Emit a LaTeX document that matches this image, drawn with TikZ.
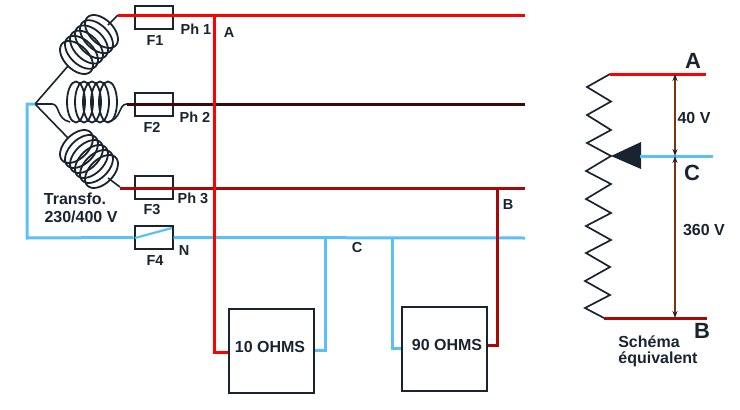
\documentclass[tikz,border=0pt]{standalone}
\usepackage{fontspec}
\setmainfont{Liberation Sans}
\usetikzlibrary{arrows.meta,calc}
\definecolor{ink}{HTML}{1A2430}
\definecolor{phA}{HTML}{FF0000}
\definecolor{phB}{HTML}{3F0808}
\definecolor{phC}{HTML}{A80808}
\definecolor{neu}{HTML}{5BC0F8}
\definecolor{brn}{HTML}{7A3410}
\tikzset{
  x=1pt,y=-1pt,
  fusebox/.style={draw=ink,line width=2pt,minimum width=38pt,minimum height=23pt,inner sep=0pt},
  loadbox/.style={draw=ink,line width=2pt,minimum width=85pt,minimum height=84pt,inner sep=0pt},
  lbl/.style={text=ink,font=\bfseries\fontsize{14.5}{16}\selectfont,inner sep=0pt},
  lbllong/.style={text=ink,font=\bfseries\fontsize{16}{18}\selectfont,inner sep=0pt},
  biglbl/.style={text=ink,font=\bfseries\fontsize{22}{24}\selectfont,inner sep=0pt},
  wire/.style={line width=3pt},
  coil/.style={draw=ink,line width=1.8pt},
  lead/.style={draw=ink,line width=1.6pt,line join=round},
  volt/.style={draw=brn,line width=1.8pt}
}
\begin{document}
\begin{tikzpicture}
\useasboundingbox (0,0) rectangle (740,410);
% coordinates
\coordinate (star) at (35,104);
\coordinate (nw) at (27,104);
\coordinate (nb) at (27,238);
\coordinate (a0) at (118,15);
\coordinate (a1) at (525,15);
\coordinate (aj) at (214,15);
\coordinate (ab) at (214,352);
\coordinate (b0) at (127,104);
\coordinate (b1) at (525,104);
\coordinate (c0) at (120,188);
\coordinate (c1) at (525,188);
\coordinate (cj) at (497,188);
\coordinate (cb) at (497,345);
\coordinate (n1) at (525,238);
\coordinate (t1) at (325,238);
\coordinate (t1b) at (325,350);
\coordinate (t2) at (392,238);
\coordinate (t2b) at (392,348);
\coordinate (f4a) at (135,238);
\coordinate (f4b) at (172,228);
% fuses and loads
\node[fusebox] (F1) at (153.5,17) {};
\node[fusebox] (F2) at (153.5,104.5) {};
\node[fusebox] (F3) at (153.5,187.5) {};
\node[fusebox] (F4) at (153.5,237.5) {};
\node[loadbox] (L10) at (271.5,350.5) {};
\node[loadbox] (L90) at (444.5,349) {};
% coils
\foreach \t in {0,...,5}{
  \draw[coil,shift={({76.5+\t*5},{57.5-\t*5.2})},rotate=-45] (0,0) ellipse[x radius=20,y radius=12];
  \draw[coil,shift={({76.5+\t*5},{146.5+\t*5})},rotate=45] (0,0) ellipse[x radius=20,y radius=12];
}
\foreach \t in {0,...,4}{
  \draw[coil,shift={({76+\t*8},102)}] (0,0) ellipse[x radius=9,y radius=20.5];
}
\draw[lead] (star) -- (68,66);
\draw[lead] (118,15) -- (108,25);
\draw[lead] (star) -- (52,104) .. controls (60,104) and (56,119) .. (70,122);
\draw[lead] (127,104) .. controls (118,104) and (122,120) .. (107,122);
\draw[lead] (star) -- (68,138);
\draw[lead] (120,187) -- (108,178);
% wires
\draw[wire,phB] (b0) -- (b1);
\draw[wire,phC] (c0) -- (c1);
\draw[wire,neu] (star) -- (nw) -- (nb) -- (F4.west);
\draw[wire,neu] (F4.east) -- (n1);
\draw[wire,neu,line width=2.2pt] (f4a) -- (f4b);
\draw[wire,neu] (t1) -- (t1b) -- (L10.east |- t1b);
\draw[wire,neu] (t2) -- (t2b) -- (L90.west |- t2b);
\draw[wire,phA] (a0) -- (a1);
\draw[wire,phA] (aj) -- (ab) -- (L10.west |- ab);
\draw[wire,phC] (cj) -- (cb) -- (L90.east |- cb);
% labels
\node[lbl] at (155,41) {F1};
\node[lbl] at (152,127) {F2};
\node[lbl] at (152,210) {F3};
\node[lbl] at (155,261) {F4};
\node[lbl] at (196,29) {Ph 1};
\node[lbl] at (195,117) {Ph 2};
\node[lbl] at (193,198) {Ph 3};
\node[lbl] at (229,33) {A};
\node[lbl] at (184,251) {N};
\node[lbllong] at (75,199) {Transfo.};
\node[lbllong] at (81,217) {230/400 V};
\node[lbl] at (357,248) {C};
\node[lbl] at (508,205) {B};
\node[lbllong] at (270,347) {10 OHMS};
\node[lbllong] at (447,345) {90 OHMS};
% equivalent schematic
\coordinate (ra0) at (610,74);
\coordinate (ra1) at (706,74);
\coordinate (rb0) at (604,318);
\coordinate (rb1) at (707,318);
\coordinate (rm) at (611,156);
\coordinate (rc0) at (640,156);
\coordinate (rc1) at (713,156);
\coordinate (va) at (675,74);
\coordinate (vc) at (675,156);
\coordinate (vb) at (675,318);
\draw[draw=ink,line width=1.7pt,line join=miter] (ra0) -- (587,87) -- (611,101.5) -- (587,115) -- (611,130) -- (587,143) -- (rm) -- (586,171) -- (611,184) -- (586,199) -- (611,213) -- (586,226) -- (611,240) -- (586,253) -- (610,267) -- (585,281) -- (610,295) -- (585,308) -- (rb0);
\fill[ink] (rm) -- (641,142) -- (641,169) -- cycle;
\draw[wire,phA] (ra0) -- (ra1);
\draw[wire,phC] (rb0) -- (rb1);
\draw[wire,neu] (rc0) -- (rc1);
\draw[volt,{Stealth[length=7pt,width=5pt,color=ink]}-{Stealth[length=7pt,width=5pt,color=ink]}] (va) -- (vc);
\draw[volt,{Stealth[length=7pt,width=5pt,color=ink]}-{Stealth[length=7pt,width=5pt,color=ink]}] (vc) -- (vb);
\node[biglbl] at (693,61) {A};
\node[biglbl] at (692,173) {C};
\node[biglbl] at (702,331) {B};
\node[lbllong] at (694,118) {40 V};
\node[lbllong] at (704,230) {360 V};
\node[lbllong] at (649,342) {Schéma};
\node[lbllong] at (658,359) {équivalent};
\end{tikzpicture}
\end{document}
